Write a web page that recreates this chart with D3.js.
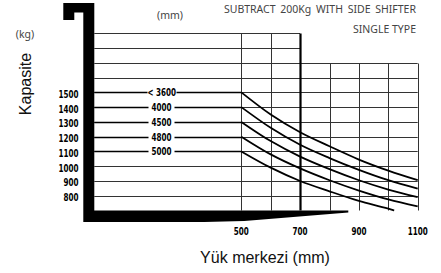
<!DOCTYPE html>
<html>
<head>
<meta charset="utf-8">
<script src="https://cdn.jsdelivr.net/npm/d3@7"></script>
<style>
  body { margin: 0; background: #fff; }
  svg { display: block; }
</style>
</head>
<body>
<div id="chart"></div>
<script>
// load centre (mm) and capacity (kg)
var masts = ["< 3600", "4000", "4500", "4800", "5000"];
var rated = [1500, 1400, 1300, 1200, 1100];
var curve3600 = [[500,1500],[600,1350],[700,1230],[800,1135],[900,1045],[1000,970],[1100,905]];
var curve4000 = [[500,1400],[600,1260],[700,1145],[800,1055],[900,975],[1000,905],[1100,848]];
var curve4500 = [[500,1300],[600,1170],[700,1065],[800,980],[900,905],[1000,842],[1100,790]];
var curve4800 = [[500,1200],[600,1080],[700,985],[800,905],[900,835],[1000,775],[1100,728]];
var curve5000 = [[500,1100],[600,990],[700,900],[800,830],[900,765],[1000,712],[1020,700]];
var curves = [curve3600, curve4000, curve4500, curve4800, curve5000];
var yTicks = [800, 900, 1000, 1100, 1200, 1300, 1400, 1500];
var xTicks = [500, 700, 900, 1100];
var gridKg = [800, 900, 1000, 1100, 1200, 1300, 1400, 1500, 1600, 1700, 1800, 1900];
var gridMm = [500, 600, 700, 800, 900, 1000, 1100];

// narrow bold numbers like the printed chart
function numText(sel, anchor)
{
  sel.append("text")
    .attr("text-anchor", anchor)
    .attr("transform", "scale(0.8,1.08)")
    .style("font-family", "'DejaVu Sans Condensed', 'DejaVu Sans'")
    .style("font-weight", "bold")
    .style("font-size", "10px")
    .text(function(d) { return d; });
}

function init()
{
  var width = 441, height = 273;

  var svg = d3.select("#chart")
    .append("svg")
    .attr("width", width)
    .attr("height", height);

  var x = d3.scaleLinear().domain([0, 1100]).range([94.3, 417.7]);
  var y = d3.scaleLinear().domain([700, 1900]).range([210.5, 33.3]);

  // grid
  var grid = svg.append("g").attr("stroke", "#333").attr("stroke-width", 1);
  grid.selectAll("line.h")
    .data(gridKg)
    .enter()
    .append("line")
      .attr("x1", x(0))
      .attr("x2", function(d) { return d > 1700 ? x(700) : x(1100); })
      .attr("y1", function(d) { return Math.round(y(d)) + 0.5; })
      .attr("y2", function(d) { return Math.round(y(d)) + 0.5; });

  grid.selectAll("line.v")
    .data(gridMm)
    .enter()
    .append("line")
      .attr("x1", function(d) { return Math.round(x(d)) + 0.5; })
      .attr("x2", function(d) { return Math.round(x(d)) + 0.5; })
      .attr("y1", function(d) { return d > 700 ? Math.round(y(1700)) + 0.5 : Math.round(y(1900)) + 0.5; })
      .attr("y2", y(700))
      .attr("stroke", function(d) { return d == 700 ? "#000" : "#333"; })
      .attr("stroke-width", function(d) { return d == 700 ? 2.2 : 1; });

  // capacity lines left of 500mm
  svg.selectAll("line.rated")
    .data(rated)
    .enter()
    .append("line")
      .attr("x1", x(0))
      .attr("x2", x(500))
      .attr("y1", function(d) { return Math.round(y(d)) + 0.5; })
      .attr("y2", function(d) { return Math.round(y(d)) + 0.5; })
      .attr("stroke", "#000")
      .attr("stroke-width", 1.6);

  // capacity curves
  var line = d3.line()
    .x(function(d) { return x(d[0]); })
    .y(function(d) { return y(d[1]); })
    .curve(d3.curveMonotoneX);

  svg.selectAll("path.curve")
    .data(curves)
    .enter()
    .append("path")
      .attr("d", line)
      .attr("fill", "none")
      .attr("stroke", "#000")
      .attr("stroke-width", 1.8);

  // mast labels with white gap
  var labels = svg.selectAll("g.mast")
    .data(masts)
    .enter()
    .append("g")
      .attr("transform", function(d, i) {
        return "translate(" + (i == 0 ? 147.5 : 151.5) + "," + (Math.round(y(rated[i])) + 4) + ")";
      });

  labels.append("rect")
    .attr("x", function(d, i) { return i == 0 ? 0 : -3; })
    .attr("y", -9)
    .attr("width", function(d, i) { return i == 0 ? 29 : 26; })
    .attr("height", 10)
    .attr("fill", "#fff");

  numText(labels, "start");

  // y tick labels
  var yl = svg.selectAll("g.ytick")
    .data(yTicks)
    .enter()
    .append("g")
      .attr("transform", function(d) { return "translate(78.5," + (y(d) + 5.5) + ")"; });
  numText(yl, "end");

  // x tick labels
  var xl = svg.selectAll("g.xtick")
    .data(xTicks)
    .enter()
    .append("g")
      .attr("transform", function(d) { return "translate(" + x(d) + ",235)"; });
  numText(xl, "middle");

  // mast and forks
  var x0 = x(0), yb = y(700);
  svg.append("path")
    .attr("d", "M" + (x0 - 31) + ",3 H" + x0 + " V" + yb + " H" + (x0 + 254) + " V" + (yb + 2) +
               " L" + (x0 + 150) + "," + (yb + 10.5) + " L" + (x0 + 110) + "," + (yb + 11.5) +
               " H" + (x0 - 11) + " V12.5 H" + (x0 - 20) + " V20 H" + (x0 - 31) + " Z")
    .attr("fill", "#000");

  // texts
  svg.append("text")
    .attr("x", 170)
    .attr("y", 19)
    .attr("text-anchor", "middle")
    .style("font-family", "'Noto Sans'")
    .style("font-size", "10.5px")
    .style("fill", "#444")
    .text("(mm)");

  svg.append("text")
    .attr("x", 416)
    .attr("y", 13)
    .attr("text-anchor", "end")
    .style("font-family", "'Noto Sans'")
    .style("font-size", "10.5px")
    .style("word-spacing", "2px")
    .style("fill", "#444")
    .text("SUBTRACT 200Kg WITH SIDE SHIFTER");

  svg.append("text")
    .attr("x", 416)
    .attr("y", 33)
    .attr("text-anchor", "end")
    .style("font-family", "'Noto Sans'")
    .style("font-size", "10.5px")
    .style("fill", "#444")
    .text("SINGLE TYPE");

  svg.append("text")
    .attr("x", 25)
    .attr("y", 38)
    .attr("text-anchor", "middle")
    .style("font-family", "'Noto Sans'")
    .style("font-size", "10.5px")
    .style("fill", "#444")
    .text("(kg)");

  svg.append("text")
    .attr("transform", "translate(31,84) rotate(-90)")
    .attr("text-anchor", "middle")
    .style("font-family", "'Liberation Sans', Arial")
    .style("font-size", "16px")
    .style("fill", "#111")
    .text("Kapasite");

  svg.append("text")
    .attr("x", 265)
    .attr("y", 263)
    .attr("text-anchor", "middle")
    .style("font-family", "'Liberation Sans', Arial")
    .style("font-size", "16px")
    .style("fill", "#111")
    .text("Yük merkezi (mm)");
}

window.onload = init();
</script>
</body>
</html>
